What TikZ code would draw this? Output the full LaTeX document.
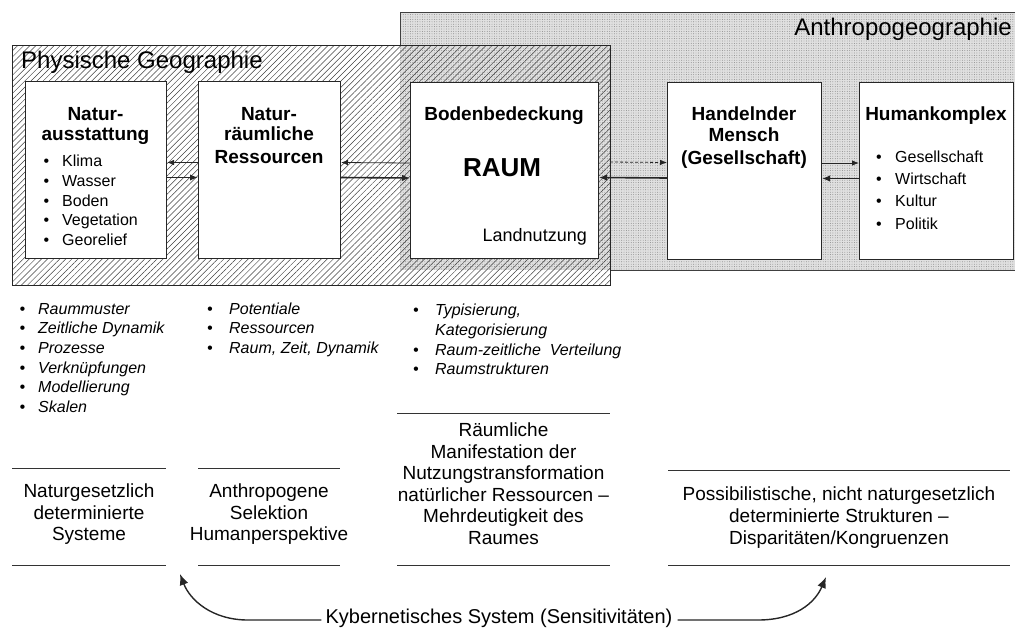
\documentclass[tikz,border=0pt]{standalone}
\usepackage{fontspec}
\setmainfont{Liberation Sans}
\usetikzlibrary{patterns.meta,arrows.meta,calc}
\newcommand{\mybul}[1]{\makebox[#1][l]{\textbullet}}
\begin{document}
\begin{tikzpicture}[x=1pt,y=-1pt,
  ln/.style={inner sep=0pt, text height=0.72em, text depth=0pt},
  bt/.style={ln, font=\bfseries\fontsize{19}{19}\selectfont},
  bl/.style={ln, anchor=west, font=\fontsize{16}{16}\selectfont},
  il/.style={ln, anchor=west, font=\itshape\fontsize{16}{16}\selectfont},
  bot/.style={ln, font=\fontsize{19}{19}\selectfont},
  wbox/.style={draw=black!85, fill=white, line width=1pt, inner sep=0pt, anchor=north west},
  thinarr/.style={-{Latex[length=7pt,width=5.5pt]}, line width=0.8pt, black!85},
  thickarr/.style={-{Latex[length=8pt,width=6.5pt]}, line width=1.6pt, black!85},
  dasharr/.style={thinarr, dash pattern=on 3pt off 2pt},
  sepline/.style={line width=0.8pt, black!80},
  kybarr/.style={-{Latex[length=11pt,width=9pt]}, line width=1.4pt, black!85}
]
\useasboundingbox (0,0) rectangle (1015,641);

% Anthropogeographie area (stippled)
\fill[black!12] (400,12) rectangle (1015,270);
\fill[pattern={Dots[distance=2.4pt,radius=0.45pt]}, pattern color=black!50] (400,12) rectangle (1015,270);
\draw[line width=0.9pt, black!75] (400,45) -- (400,12) -- (1015,12);
\draw[line width=0.9pt, black!75] (610,270) -- (1015,270);

% Physische Geographie area (hatched)
\fill[pattern={Lines[angle=45,distance=4.3pt,line width=0.5pt]}, pattern color=black!75] (12,45) rectangle (610,285);
\draw[line width=1pt, black!85] (12,45) rectangle (610,285);

\node[ln, anchor=west, font=\fontsize{24}{24}\selectfont] (physlbl) at (21,65) {Physische Geographie};
\node[ln, anchor=east, font=\fontsize{24}{24}\selectfont] (anthrolbl) at (1012,32) {Anthropogeographie};

% boxes
\node[wbox, minimum width=141pt, minimum height=177pt] (b1) at (25,81) {};
\node[wbox, minimum width=142pt, minimum height=177pt] (b2) at (198,81) {};
\node[wbox, minimum width=188pt, minimum height=176pt] (b3) at (410,82) {};
\node[wbox, minimum width=154pt, minimum height=177pt] (b4) at (667,82) {};
\node[wbox, minimum width=154pt, minimum height=177pt] (b5) at (859,82) {};

% box 1
\node[bt] (b1a) at (95.5,117) {Natur-};
\node[bt] (b1b) at (95.5,137) {ausstattung};
\node[bl] (b1c) at (43.5,163) {\mybul{18.5pt}Klima};
\node[bl] (b1d) at (43.5,183) {\mybul{18.5pt}Wasser};
\node[bl] (b1e) at (43.5,203) {\mybul{18.5pt}Boden};
\node[bl] (b1f) at (43.5,222) {\mybul{18.5pt}Vegetation};
\node[bl] (b1g) at (43.5,242) {\mybul{18.5pt}Georelief};

% box 2
\node[bt] (b2a) at (269,117) {Natur-};
\node[bt] (b2b) at (269,137) {räumliche};
\node[bt] (b2c) at (269,160) {Ressourcen};

% box 3
\node[bt] (b3a) at (504,117) {Bodenbedeckung};
\node[ln, font=\bfseries\fontsize{26}{26}\selectfont] (b3b) at (502,173) {RAUM};
\node[ln, anchor=east, font=\fontsize{18}{18}\selectfont] (b3c) at (587,238) {Landnutzung};

% box 4
\node[bt] (b4a) at (744,117) {Handelnder};
\node[bt] (b4b) at (744,138) {Mensch};
\node[bt] (b4c) at (744,161) {(Gesellschaft)};

% box 5
\node[bt] (b5a) at (936,117) {Humankomplex};
\node[bl] (b5b) at (876,159) {\mybul{19pt}Gesellschaft};
\node[bl] (b5c) at (876,181) {\mybul{19pt}Wirtschaft};
\node[bl] (b5d) at (876,203) {\mybul{19pt}Kultur};
\node[bl] (b5e) at (876,226) {\mybul{19pt}Politik};

% arrows
\draw[thinarr] ([yshift=7.5pt]b2.west) -- ([yshift=7.5pt]b1.east);
\draw[thickarr] ([yshift=-7.5pt]b1.east) -- ([yshift=-7.5pt]b2.west);
\draw[thinarr] ([yshift=7.5pt]b3.west) -- ([yshift=7.5pt]b2.east);
\draw[thickarr] ([yshift=-7.5pt]b2.east) -- ([yshift=-7.5pt]b3.west);
\coordinate (dstart) at (610,162);
\draw[dasharr] (dstart) -- ([yshift=8.5pt]b4.west);
\draw[thickarr] ([yshift=-7pt]b4.west) -- ([yshift=-7pt]b3.east);
\draw[thinarr] ([yshift=8pt]b4.east) -- ([yshift=8pt]b5.west);
\draw[thickarr] ([yshift=-7.5pt]b5.west) -- ([yshift=-7.5pt]b4.east);

% italic lists
\node[il] (c1a) at (19.5,311) {\mybul{18.5pt}Raummuster};
\node[il] (c1b) at (19.5,330) {\mybul{18.5pt}Zeitliche Dynamik};
\node[il] (c1c) at (19.5,350) {\mybul{18.5pt}Prozesse};
\node[il] (c1d) at (19.5,370) {\mybul{18.5pt}Verknüpfungen};
\node[il] (c1e) at (19.5,389) {\mybul{18.5pt}Modellierung};
\node[il] (c1f) at (19.5,409) {\mybul{18.5pt}Skalen};

\node[il] (c2a) at (207,311) {\mybul{22pt}Potentiale};
\node[il] (c2b) at (207,330) {\mybul{22pt}Ressourcen};
\node[il] (c2c) at (207,350) {\mybul{22pt}Raum, Zeit, Dynamik};

\node[il] (c3a) at (413,312) {\mybul{22pt}Typisierung,};
\node[il] (c3b) at (435,332) {Kategorisierung};
\node[il] (c3c) at (413,352) {\mybul{22pt}Raum-zeitliche\ \ Verteilung};
\node[il] (c3d) at (413,371) {\mybul{22pt}Raumstrukturen};

% separator lines
\draw[sepline] (12,468) -- (166,468);
\draw[sepline] (12,565) -- (166,565);
\draw[sepline] (198,468) -- (340,468);
\draw[sepline] (198,565) -- (340,565);
\draw[sepline] (397,413) -- (610,413);
\draw[sepline] (397,565) -- (610,565);
\draw[sepline] (668,470) -- (1010,470);
\draw[sepline] (668,565) -- (1010,565);

% bottom texts
\node[bot] (d1a) at (89,494) {Naturgesetzlich};
\node[bot] (d1b) at (89,516) {determinierte};
\node[bot] (d1c) at (89,537) {Systeme};

\node[bot] (d2a) at (269,494) {Anthropogene};
\node[bot] (d2b) at (269,516) {Selektion};
\node[bot] (d2c) at (269,537) {Humanperspektive};

\node[bot] (d3a) at (503.5,433) {Räumliche};
\node[bot] (d3b) at (503.5,454.5) {Manifestation der};
\node[bot] (d3c) at (503.5,476) {Nutzungstransformation};
\node[bot] (d3d) at (503.5,497.5) {natürlicher Ressourcen –};
\node[bot] (d3e) at (503.5,519) {Mehrdeutigkeit des};
\node[bot] (d3f) at (503.5,540.5) {Raumes};

\node[bot] (d4a) at (839,497) {Possibilistische, nicht naturgesetzlich};
\node[bot] (d4b) at (839,519) {determinierte Strukturen –};
\node[bot] (d4c) at (839,541) {Disparitäten/Kongruenzen};

% cybernetic system
\node[ln, font=\fontsize{20}{20}\selectfont] (kyb) at (499,620) {Kybernetisches System (Sensitivitäten)};
\coordinate (tipL) at (180,574);
\coordinate (tipR) at (826,577);
\draw[kybarr] ([xshift=-4pt]kyb.west) -- (248,620) .. controls (212,620) and (190,600) .. (tipL);
\draw[kybarr] ([xshift=5pt]kyb.east) -- (758,620) .. controls (795,620) and (815,603) .. (tipR);
\end{tikzpicture}
\end{document}
